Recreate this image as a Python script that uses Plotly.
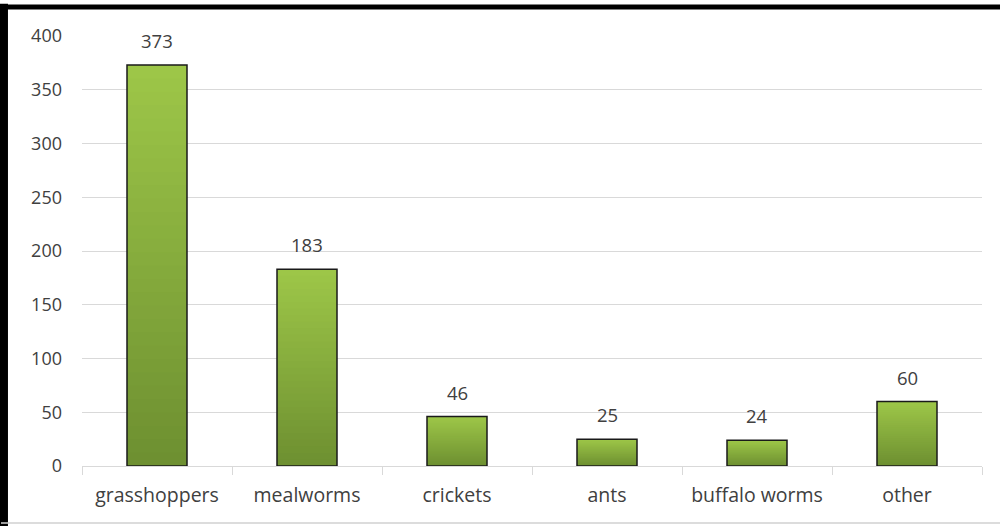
import plotly.graph_objects as go

categories = ["grasshoppers", "mealworms", "crickets", "ants", "buffalo worms", "other"]
counts = [373, 183, 46, 25, 24, 60]
y_ticks = [0, 50, 100, 150, 200, 250, 300, 350, 400]

top_rgb = (157, 198, 72)
bottom_rgb = (108, 142, 48)
N_LAYERS = 30

fig = go.Figure()
# vertical gradient built from overlaid bars (full height first, then shorter, darker ones)
for k in range(N_LAYERS, 0, -1):
    f = k / N_LAYERS
    c = tuple(round(bottom_rgb[i] + (top_rgb[i] - bottom_rgb[i]) * f) for i in range(3))
    fig.add_trace(go.Bar(
        x=categories, y=[v * f for v in counts],
        marker=dict(color="rgb(%d,%d,%d)" % c, line=dict(width=0)),
        hoverinfo="skip", showlegend=False,
    ))
# outline
fig.add_trace(go.Bar(
    x=categories, y=counts,
    marker=dict(color="rgba(0,0,0,0)", line=dict(color="#1a1a1a", width=1.5)),
    showlegend=False,
))

FONT = "Open Sans"
for c, v in zip(categories, counts):
    fig.add_annotation(x=c, y=v, text=str(v), showarrow=False, yanchor="bottom",
                       yshift=10, font=dict(family=FONT, size=18.5, color="#404040"))

# outer frame: thick black top and left, thin gray bottom
fig.add_shape(type="line", xref="paper", yref="paper", x0=-0.1, x1=1.03, y0=1.0674, y1=1.0674,
              line=dict(color="black", width=5))
fig.add_shape(type="line", xref="paper", yref="paper", x0=-0.0867, x1=-0.0867, y0=-0.14, y1=1.075,
              line=dict(color="black", width=8))
fig.add_shape(type="line", xref="paper", yref="paper", x0=-0.09, x1=1.03, y0=-0.1326, y1=-0.1326,
              line=dict(color="#d0d0d0", width=1.5))

fig.update_layout(
    width=1000, height=526,
    margin=dict(l=82, r=18, t=36, b=60),
    paper_bgcolor="white", plot_bgcolor="white",
    barmode="overlay", bargap=0.6,
    font=dict(family=FONT, size=18, color="#404040"),
)
fig.update_yaxes(range=[0, 400], tickvals=y_ticks, showgrid=True, gridcolor="#d9d9d9",
                 gridwidth=1, zeroline=False, showline=False, ticks="",
                 ticklabelstandoff=19, tickfont=dict(family=FONT, size=18, color="#404040"))
fig.update_xaxes(showline=True, linecolor="#d9d9d9", linewidth=1, ticks="outside",
                 tickson="boundaries", ticklen=8, tickcolor="#d9d9d9",
                 ticklabelstandoff=12, tickfont=dict(family=FONT, size=19.5, color="#404040"))

fig.write_html("out.html", config={"displayModeBar": False},
               post_script="document.body.style.margin='0';document.body.style.overflow='hidden';")
